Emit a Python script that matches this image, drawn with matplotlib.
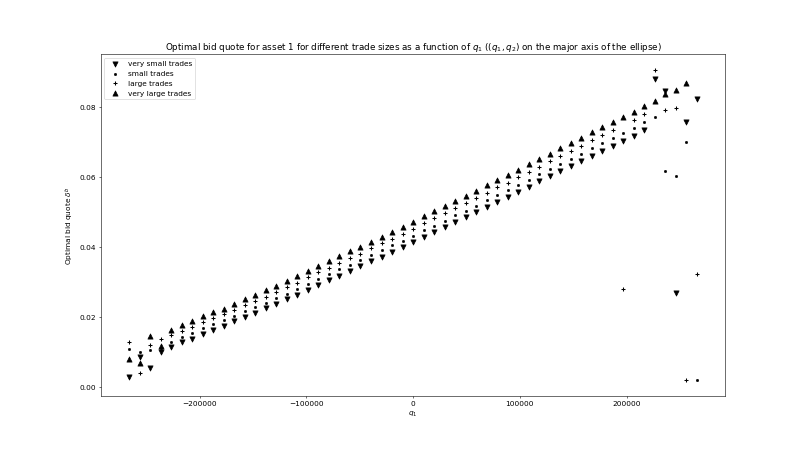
import numpy as np
import matplotlib
matplotlib.use("Agg")
import matplotlib.pyplot as plt

# grid of q1 values on the major axis of the ellipse
q1 = np.linspace(-266000, 266000, 55)

very_small = [0.0029, 0.0087, 0.0054, 0.0101, 0.0113, 0.0127, 0.0137, 0.0152, 0.0163, 0.0174,
              0.0188, 0.0200, 0.0211, 0.0225, 0.0237, 0.0250, 0.0263, 0.0278, 0.0291, 0.0305,
              0.0318, 0.0332, 0.0344, 0.0359, 0.0372, 0.0386, 0.0400, 0.0414, 0.0428, 0.0442,
              0.0456, 0.0471, 0.0484, 0.0499, 0.0514, 0.0529, 0.0542, 0.0557, 0.0572, 0.0587,
              0.0601, 0.0616, 0.0631, 0.0646, 0.0660, 0.0673, 0.0688, 0.0702, 0.0717, 0.0733,
              0.0880, 0.0844, 0.0269, 0.0756, 0.0823]

small = [0.0108, 0.0099, 0.0107, 0.0112, 0.0129, 0.0143, 0.0154, 0.0168, 0.0179, 0.0190,
         0.0204, 0.0216, 0.0227, 0.0241, 0.0254, 0.0266, 0.0280, 0.0295, 0.0308, 0.0322,
         0.0336, 0.0349, 0.0362, 0.0376, 0.0390, 0.0404, 0.0418, 0.0432, 0.0447, 0.0460,
         0.0475, 0.0490, 0.0503, 0.0518, 0.0534, 0.0548, 0.0562, 0.0577, 0.0592, 0.0607,
         0.0621, 0.0636, 0.0652, 0.0666, 0.0681, 0.0695, 0.0710, 0.0724, 0.0739, 0.0755,
         0.0771, 0.0616, 0.0602, 0.0699, 0.0019]

large = [0.0129, 0.0041, 0.0119, 0.0136, 0.0147, 0.0159, 0.0171, 0.0185, 0.0196, 0.0207,
         0.0221, 0.0233, 0.0245, 0.0258, 0.0271, 0.0284, 0.0298, 0.0313, 0.0327, 0.0340,
         0.0354, 0.0368, 0.0381, 0.0396, 0.0410, 0.0423, 0.0438, 0.0452, 0.0467, 0.0481,
         0.0496, 0.0510, 0.0524, 0.0539, 0.0555, 0.0570, 0.0583, 0.0598, 0.0614, 0.0629,
         0.0644, 0.0659, 0.0674, 0.0689, 0.0704, 0.0718, 0.0733, 0.0280, 0.0762, 0.0778,
         0.0906, 0.0792, 0.0797, 0.0019, 0.0323]

very_large = [0.0079, 0.0068, 0.0145, 0.0117, 0.0164, 0.0178, 0.0188, 0.0202, 0.0213, 0.0224,
              0.0238, 0.0250, 0.0262, 0.0276, 0.0289, 0.0302, 0.0316, 0.0331, 0.0345, 0.0359,
              0.0373, 0.0387, 0.0400, 0.0415, 0.0429, 0.0443, 0.0458, 0.0472, 0.0487, 0.0501,
              0.0516, 0.0531, 0.0545, 0.0560, 0.0576, 0.0591, 0.0605, 0.0620, 0.0636, 0.0651,
              0.0666, 0.0681, 0.0697, 0.0712, 0.0727, 0.0741, 0.0756, 0.0770, 0.0785, 0.0801,
              0.0815, 0.0835, 0.0849, 0.0868, np.nan]

plt.rcParams['font.size'] = 10.5

fig = plt.figure(figsize=(16, 9), dpi=50.375)
fig.subplots_adjust(left=0.125, right=0.9, top=0.88, bottom=0.126)

plt.scatter(q1, very_small, marker='v', color='k', s=55, label='very small trades')
plt.scatter(q1, small, marker='.', color='k', s=40, label='small trades')
plt.scatter(q1, large, marker='+', color='k', s=50, linewidths=1.5, label='large trades')
plt.scatter(q1, very_large, marker='^', color='k', s=55, label='very large trades')

plt.title(r"Optimal bid quote for asset 1 for different trade sizes as a function of $q_1$ (($q_1, q_2$) on the major axis of the ellipse)")
plt.xlabel(r"$q_1$")
plt.ylabel(r"Optimal bid quote $\delta^b$")
plt.legend(loc='upper left')

fig.savefig("out.png", dpi=50.375)
